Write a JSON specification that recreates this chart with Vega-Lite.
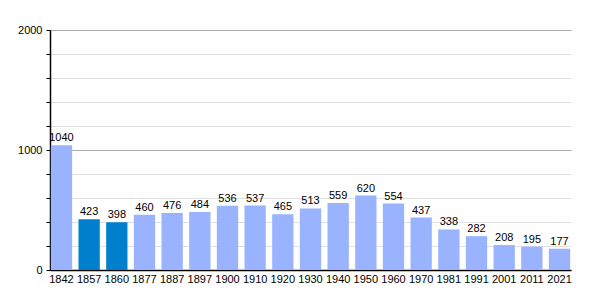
{
  "$schema": "https://vega.github.io/schema/vega-lite/v6.json",
  "width": 521,
  "height": 240,
  "autosize": "none",
  "padding": {"left": 50, "top": 30, "right": 29, "bottom": 30},
  "background": "white",
  "config": {"view": {"stroke": null}, "font": "Liberation Sans"},
  "data": {
    "values": [
      {"year": "1842", "pop": 1040, "kind": "a"},
      {"year": "1857", "pop": 423, "kind": "b"},
      {"year": "1860", "pop": 398, "kind": "b"},
      {"year": "1877", "pop": 460, "kind": "a"},
      {"year": "1887", "pop": 476, "kind": "a"},
      {"year": "1897", "pop": 484, "kind": "a"},
      {"year": "1900", "pop": 536, "kind": "a"},
      {"year": "1910", "pop": 537, "kind": "a"},
      {"year": "1920", "pop": 465, "kind": "a"},
      {"year": "1930", "pop": 513, "kind": "a"},
      {"year": "1940", "pop": 559, "kind": "a"},
      {"year": "1950", "pop": 620, "kind": "a"},
      {"year": "1960", "pop": 554, "kind": "a"},
      {"year": "1970", "pop": 437, "kind": "a"},
      {"year": "1981", "pop": 338, "kind": "a"},
      {"year": "1991", "pop": 282, "kind": "a"},
      {"year": "2001", "pop": 208, "kind": "a"},
      {"year": "2011", "pop": 195, "kind": "a"},
      {"year": "2021", "pop": 177, "kind": "a"}
    ]
  },
  "encoding": {
    "x": {
      "field": "year", "type": "ordinal", "sort": null, "title": null,
      "scale": {"paddingInner": 0.23, "paddingOuter": 0.03},
      "axis": {"labelAngle": 0, "ticks": false, "domainColor": "black", "domainWidth": 1.5, "labelFontSize": 11, "labelColor": "black", "labelPadding": 3}
    },
    "y": {
      "field": "pop", "type": "quantitative", "title": null,
      "scale": {"domain": [0, 2000], "nice": false},
      "axis": {
        "values": [0, 200, 400, 600, 800, 1000, 1200, 1400, 1600, 1800, 2000],
        "labelExpr": "datum.value % 1000 === 0 ? datum.value : ''",
        "gridColor": {"condition": {"test": "datum.value % 1000 === 0", "value": "#a8a8a8"}, "value": "#e0e0e0"},
        "domainColor": "black", "domainWidth": 1.5,
        "tickColor": "black", "tickSize": 4,
        "labelFontSize": 11, "labelColor": "black", "labelPadding": 4
      }
    }
  },
  "layer": [
    {
      "mark": {"type": "bar"},
      "encoding": {
        "color": {"field": "kind", "type": "nominal", "legend": null,
          "scale": {"domain": ["a", "b"], "range": ["#99b3ff", "#0080cc"]}}
      }
    },
    {
      "mark": {"type": "text", "baseline": "bottom", "dy": -2, "fontSize": 11, "color": "black"},
      "encoding": {"text": {"field": "pop", "type": "quantitative"}}
    }
  ]
}
